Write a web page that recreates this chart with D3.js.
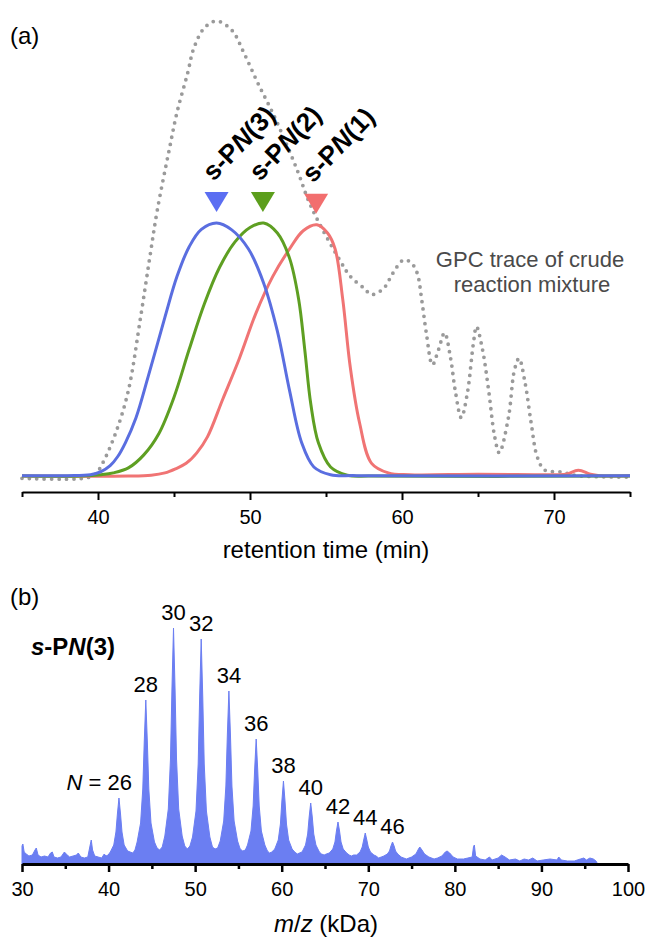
<!DOCTYPE html>
<html>
<head>
<meta charset="utf-8">
<script src="https://cdn.jsdelivr.net/npm/d3@7"></script>
<style>
  html, body { margin: 0; padding: 0; background: #fff; }
  svg { display: block; font-family: "Liberation Sans", Arial, sans-serif; }
</style>
</head>
<body>
<svg id="chart" width="646" height="937"></svg>
<script>
// ---------- Panel (a): GPC traces ----------
const gpcTicks = [40, 50, 60, 70];
const gpcMinorTicks = [35, 45, 55, 65, 75];

const crudeTrace = [[35,-0.3],[39,-0.3],[39.8,0.5],[40.3,3],[41.2,10],[42.0,19],[42.8,35],[43.4,48],[43.9,58.5],[44.7,72],[45.2,80],[45.9,88.6],[46.3,94],[47.0,98.5],[47.8,100],[48.8,98],[49.6,93],[50.5,86.5],[51.5,79.8],[52.4,73],[53.2,66.5],[53.8,61],[54.5,56],[55.9,47.6],[56.6,44],[57.5,41.4],[58.0,40],[58.8,41.4],[59.4,44.7],[60.1,47.6],[60.6,47],[61.0,44.7],[61.3,38.8],[61.6,31.6],[62.0,24.6],[62.4,27.9],[62.8,31.6],[63.2,26],[63.5,19],[63.9,13],[64.3,18.4],[64.7,29.4],[64.9,33],[65.3,27.9],[65.7,19],[66.1,8.8],[66.4,5.3],[67.0,13],[67.4,23.5],[67.7,26],[68.1,20.6],[68.5,11.8],[68.9,4.4],[69.4,1.5],[70.5,1.1],[71.5,0.3],[75,0]];

const spn1 = [[35,0.2],[42,0.2],[43.5,0.4],[44.4,0.9],[45.1,1.8],[45.8,3],[46.5,5.3],[47.2,8.8],[48.2,17],[49.3,26],[50.4,36],[51.5,44],[52.6,50],[53.5,54],[54.4,55.3],[55.1,53.5],[55.6,50],[56.1,39],[56.6,24],[57.2,12],[58.0,3],[59.1,0.9],[60.5,0.5],[65,0.6],[70,0.5],[70.8,0.6],[71.6,1.5],[72.4,0.6],[73,0.3],[75,0.3]];

const spn2 = [[35,0.2],[39,0.2],[40.2,0.5],[41.0,0.9],[42.0,2],[43.0,4.8],[44.0,9.5],[45.0,17.5],[46.0,28],[47.0,38],[48.0,46],[49.0,51.5],[50.0,54.7],[50.9,55.7],[51.8,53.5],[52.6,48],[53.2,39],[53.6,28],[54.0,16],[54.5,7.5],[55.3,2.2],[56.4,0.4],[58,0.2],[75,0.2]];

const spn3 = [[35,0.3],[38,0.3],[39.5,0.5],[40.2,1.2],[40.8,2.5],[41.3,4.5],[41.8,7.5],[42.5,13],[43.3,22],[44.4,35],[45.2,44],[46.0,50.5],[46.8,54.3],[47.8,55.7],[48.8,54.2],[49.9,50],[50.9,42.5],[51.8,32],[52.6,19],[53.4,7.5],[54.2,2.2],[55.3,0.5],[57,0.3],[75,0.3]];

const sampleNames = ["(3)", "(2)", "(1)"];
const samplePeakTimes = [47.8, 50.85, 54.35];
const samplePeakValues = [55.7, 55.7, 55.3];
const sampleColors = ["#5b6ef2", "#5c9e1c", "#f26e6e"];
const lineColors = { crude: "#9a9a9a", s1: "#f07474", s2: "#5e9f22", s3: "#5a6ee0" };

// ---------- Panel (b): MALDI spectrum ----------
const msTicks = [30, 40, 50, 60, 70, 80, 90, 100];
const msMinorTicks = [35, 45, 55, 65, 75, 85, 95];
const peakN = ["26", "28", "30", "32", "34", "36", "38", "40", "42", "44", "46"];
const peakMz = [41.2, 44.3, 47.5, 50.7, 53.9, 57.05, 60.2, 63.35, 66.5, 69.65, 72.8];
const peakHeight = [66, 164, 236, 225, 173, 125, 83, 61, 42, 31, 22];

const spectrum = [
 [30.0,18],[30.1,20],[30.25,12],[30.5,10],[30.8,8],[31.2,9],[31.5,14],[31.65,16],[31.85,9],[32.2,7],[32.6,8],[33.0,7],[33.3,11],[33.5,12],[33.7,7],[34.1,6],[34.5,7],[34.9,12],[35.1,10],[35.5,7],[35.9,8],[36.3,9],[36.5,11],[36.8,7],[37.2,6],[37.6,7],[37.9,20],[38.0,24],[38.15,14],[38.4,8],[38.8,7],[39.2,6],[39.5,10],[39.7,8],[39.95,9],
 [40.2,12],[40.6,19],[40.85,32],[41.02,50],[41.2,66],[41.38,50],[41.55,32],[41.8,19],[42.2,13],
 [42.5,12],[42.8,11],[43.05,14],
 [43.3,22],[43.7,41],[43.95,75],[44.12,122],[44.3,164],[44.48,122],[44.65,75],[44.9,41],[45.3,22],
 [45.6,16],[45.9,14],[46.2,17],
 [46.5,28],[46.9,55],[47.15,105],[47.32,175],[47.5,236],[47.68,175],[47.85,105],[48.1,55],[48.5,28],
 [48.8,18],[49.1,15],[49.4,18],
 [49.7,27],[50.1,53],[50.35,100],[50.52,167],[50.7,225],[50.88,167],[51.05,100],[51.3,53],[51.7,27],
 [52.0,17],[52.3,15],[52.6,16],
 [52.9,23],[53.3,43],[53.55,78],[53.72,129],[53.9,173],[54.08,129],[54.25,78],[54.5,43],[54.9,23],
 [55.2,15],[55.5,13],[55.8,14],
 [56.05,19],[56.45,33],[56.7,58],[56.87,94],[57.05,125],[57.23,94],[57.4,58],[57.65,33],[58.05,19],
 [58.35,13],[58.6,11],[58.85,12],
 [59.2,15],[59.6,24],[59.85,40],[60.02,63],[60.2,83],[60.38,63],[60.55,40],[60.8,24],[61.2,15],
 [61.5,12],[61.8,10],[62.05,11],
 [62.35,12],[62.75,19],[63.0,30],[63.17,47],[63.35,61],[63.53,47],[63.7,30],[63.95,19],[64.35,12],
 [64.6,10],[64.9,9],[65.15,10],
 [65.5,11],[65.9,15],[66.15,22],[66.32,33],[66.5,42],[66.68,33],[66.85,22],[67.1,15],[67.5,11],
 [67.8,9],[68.05,8],[68.3,9],
 [68.65,9],[69.05,12],[69.3,17],[69.47,24],[69.65,31],[69.83,24],[70.0,17],[70.25,12],[70.65,9],
 [70.9,8],[71.2,6],[71.5,7],
 [71.8,8],[72.2,10],[72.45,13],[72.62,18],[72.8,22],[72.98,18],[73.15,13],[73.4,10],[73.8,7],
 [74.1,6],[74.4,5],[74.7,6],
 [75.0,7],[75.5,10],[75.8,15],[75.95,17],[76.2,14],[76.5,10],[77.0,7],[77.6,5],[78.0,6],
 [78.5,8],[78.9,12],[79.1,13],[79.4,11],[79.8,7],[80.3,5],[81.0,5],[81.5,6],
 [82.0,7],[82.15,17],[82.25,19],[82.4,8],[82.9,5],[83.5,4],[84.0,7],[84.3,4],[85.0,6],[85.4,9],[85.8,7],[86.3,4],[87.0,5],[87.5,3],[88.0,5],[88.5,4],[89.0,6],[89.5,3],[90.2,4],[91.0,5],[91.8,4],[92.0,7],[92.3,4],[93.0,3],[93.8,3],[94.5,5],[94.9,6],[95.2,4],[95.6,6],[96.0,5],[96.3,3],[96.5,0]
];

// ---------- Drawing ----------
const svg = d3.select("#chart");
const FONT = "'Liberation Sans', Arial, sans-serif";

// Panel (a)
const xA = d3.scaleLinear().domain([35, 75]).range([22, 630]);
const yA = d3.scaleLinear().domain([0, 100]).range([477, 21]);
const lineA = d3.line().x(d => xA(d[0])).y(d => yA(d[1])).curve(d3.curveCatmullRom.alpha(0.5));

const gA = svg.append("g");
gA.append("path").datum(crudeTrace).attr("d", lineA)
  .attr("fill", "none").attr("stroke", lineColors.crude)
  .attr("stroke-width", 3.8).attr("stroke-linecap", "round")
  .attr("stroke-dasharray", "0 7.4");
[[spn1, lineColors.s1], [spn2, lineColors.s2], [spn3, lineColors.s3]].forEach(([d, c]) => {
  gA.append("path").datum(d).attr("d", lineA)
    .attr("fill", "none").attr("stroke", c).attr("stroke-width", 3)
    .attr("stroke-linejoin", "round");
});

// markers and labels
samplePeakTimes.forEach((t, i) => {
  const cx = xA(t), tip = yA(samplePeakValues[i]) - 11;
  gA.append("path")
    .attr("d", `M${cx-12},${tip-20}L${cx+12},${tip-20}L${cx},${tip}Z`)
    .attr("fill", sampleColors[i]);
  const lx = cx - 3, ly = tip - 30;
  const t1 = gA.append("text").attr("x", lx).attr("y", ly)
    .attr("transform", `rotate(-46 ${lx} ${ly})`)
    .attr("font-size", 26).attr("font-weight", "bold").attr("fill", "#000");
  t1.append("tspan").text("s-P");
  t1.append("tspan").attr("font-style", "italic").text("N");
  t1.append("tspan").text(sampleNames[i]);
});

gA.append("text").attr("x", 530).attr("y", 267).attr("text-anchor", "middle")
  .attr("font-size", 22).attr("fill", "#4a4a4a").text("GPC trace of crude");
gA.append("text").attr("x", 532).attr("y", 292).attr("text-anchor", "middle")
  .attr("font-size", 22).attr("fill", "#4a4a4a").text("reaction mixture");

const axA = gA.append("g").attr("transform", "translate(0,492)");
axA.call(d3.axisBottom(xA).tickValues(gpcTicks).tickSize(8).tickSizeOuter(0).tickPadding(10).tickFormat(d3.format("d")));
axA.append("g").call(d3.axisBottom(xA).tickValues(gpcMinorTicks).tickSize(5).tickSizeOuter(0).tickFormat(""))
  .select(".domain").remove();
axA.selectAll("path.domain").attr("stroke-width", 2);
axA.selectAll("line").attr("stroke-width", 2);
axA.selectAll("text").attr("font-size", 20).attr("font-family", FONT).attr("fill", "#000");

gA.append("text").attr("x", 326).attr("y", 558).attr("text-anchor", "middle")
  .attr("font-size", 24).attr("fill", "#000").text("retention time (min)");
gA.append("text").attr("x", 10).attr("y", 44).attr("font-size", 24).attr("fill", "#000").text("(a)");

// Panel (b)
const xB = d3.scaleLinear().domain([30, 100]).range([22, 628]);
const yB = d3.scaleLinear().domain([0, 250]).range([864, 614]);
const gB = svg.append("g");
const areaB = d3.area().x(d => xB(d[0])).y0(yB(0)).y1(d => yB(d[1]));
gB.append("path").datum(spectrum).attr("d", areaB)
  .attr("fill", "#6b7ef2").attr("stroke", "#6b7ef2").attr("stroke-width", 1);

peakN.forEach((n, i) => {
  const x = xB(peakMz[i]), y = yB(peakHeight[i]) - 8;
  if (i === 0) {
    const t = gB.append("text").attr("x", x + 13).attr("y", y).attr("text-anchor", "end")
      .attr("font-size", 22).attr("fill", "#000");
    t.append("tspan").attr("font-style", "italic").text("N");
    t.append("tspan").text(" = " + n);
  } else {
    gB.append("text").attr("x", x).attr("y", y).attr("text-anchor", "middle")
      .attr("font-size", 22).attr("fill", "#000").text(n);
  }
});

const lb = gB.append("text").attr("x", 31).attr("y", 655)
  .attr("font-size", 24).attr("font-weight", "bold").attr("fill", "#000");
lb.append("tspan").attr("font-style", "italic").text("s");
lb.append("tspan").text("-P");
lb.append("tspan").attr("font-style", "italic").text("N");
lb.append("tspan").text("(3)");

const axB = gB.append("g").attr("transform", "translate(0,864)");
axB.call(d3.axisBottom(xB).tickValues(msTicks).tickSize(8).tickSizeOuter(0).tickPadding(10).tickFormat(d3.format("d")));
axB.append("g").call(d3.axisBottom(xB).tickValues(msMinorTicks).tickSize(5).tickSizeOuter(0).tickFormat(""))
  .select(".domain").remove();
axB.selectAll("path.domain").attr("stroke-width", 3);
axB.selectAll("line").attr("stroke-width", 2.5);
axB.selectAll("text").attr("font-size", 20).attr("font-family", FONT).attr("fill", "#000");

const tb = gB.append("text").attr("x", 326).attr("y", 932).attr("text-anchor", "middle")
  .attr("font-size", 24).attr("fill", "#000");
tb.append("tspan").attr("font-style", "italic").text("m");
tb.append("tspan").text("/");
tb.append("tspan").attr("font-style", "italic").text("z");
tb.append("tspan").text(" (kDa)");
gB.append("text").attr("x", 10).attr("y", 605).attr("font-size", 24).attr("fill", "#000").text("(b)");
</script>
</body>
</html>
